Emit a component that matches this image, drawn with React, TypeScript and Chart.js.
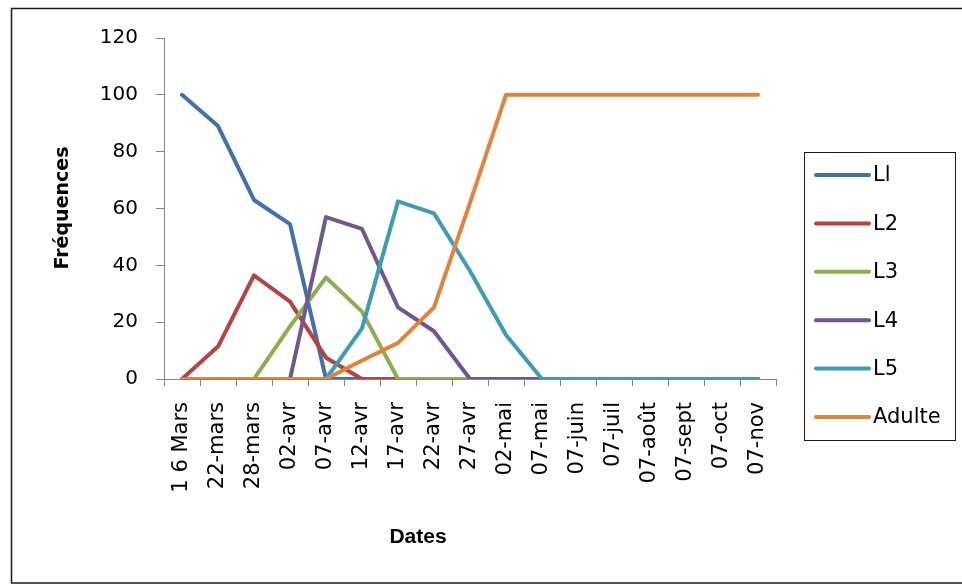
import React, { useEffect, useRef } from 'react';
import { Chart, registerables } from 'chart.js';

Chart.register(...registerables);

const categories = ['1 6 Mars', '22-mars', '28-mars', '02-avr', '07-avr', '12-avr', '17-avr', '22-avr', '27-avr', '02-mai', '07-mai', '07-juin', '07-juil', '07-août', '07-sept', '07-oct', '07-nov'];
const seriesL1 = [100, 89, 63, 54.5, 0, 0, 0, 0, 0, 0, 0, 0, 0, 0, 0, 0, 0];
const seriesL2 = [0, 11.4, 36.5, 27.2, 7.5, 0, 0, 0, 0, 0, 0, 0, 0, 0, 0, 0, 0];
const seriesL3 = [0, 0, 0, 18.5, 35.7, 23.7, 0, 0, 0, 0, 0, 0, 0, 0, 0, 0, 0];
const seriesL4 = [0, 0, 0, 0, 57, 52.8, 25.2, 16.8, 0, 0, 0, 0, 0, 0, 0, 0, 0];
const seriesL5 = [0, 0, 0, 0, 0, 17.8, 62.5, 58.3, 38, 15.5, 0, 0, 0, 0, 0, 0, 0];
const seriesAdulte = [0, 0, 0, 0, 0, 6.5, 12.7, 25.2, 62, 100, 100, 100, 100, 100, 100, 100, 100];
const seriesNames = ['Ll', 'L2', 'L3', 'L4', 'L5', 'Adulte'];
const seriesColors = ['#4170AA', '#B3443F', '#8DAE4D', '#71568F', '#3F9CB6', '#E0843B'];
const yTickValues = [0, 20, 40, 60, 80, 100, 120];
const xTitle = 'Dates';
const yTitle = 'Fréquences';

const decorPlugin = {
  id: 'decor',
  beforeDraw(chart: any) {
    const ctx = chart.ctx;
    ctx.save();
    ctx.fillStyle = '#ffffff';
    ctx.fillRect(0, 0, chart.width, chart.height);
    ctx.strokeStyle = '#1a1a1a';
    ctx.lineWidth = 1.5;
    ctx.strokeRect(11.5, 8.5, chart.width + 10, 574.5);
    ctx.restore();
  },
  afterDraw(chart: any) {
    const ctx = chart.ctx;
    ctx.save();
    // axis titles
    ctx.fillStyle = '#000';
    ctx.textAlign = 'center';
    ctx.textBaseline = 'middle';
    ctx.font = 'bold 21px "Liberation Sans"';
    ctx.fillText(xTitle, 418, 537);
    ctx.save();
    ctx.translate(63, 208);
    ctx.rotate(-Math.PI / 2);
    ctx.font = 'bold 19px "DejaVu Sans"';
    ctx.fillText(yTitle, 0, 0);
    ctx.restore();
    // legend
    ctx.strokeStyle = '#1a1a1a';
    ctx.lineWidth = 1;
    ctx.strokeRect(804.5, 152.5, 151, 288);
    ctx.font = '21px "DejaVu Sans"';
    ctx.textAlign = 'left';
    chart.data.datasets.forEach((ds: any, i: number) => {
      const y = 175 + i * 48.4;
      ctx.strokeStyle = ds.borderColor;
      ctx.lineWidth = 4;
      ctx.lineCap = 'round';
      ctx.beginPath();
      ctx.moveTo(816, y);
      ctx.lineTo(869, y);
      ctx.stroke();
      ctx.fillStyle = '#000';
      ctx.fillText(ds.label, 873, y + 1);
    });
    ctx.restore();
  },
};

export default function App() {
  const ref = useRef<HTMLCanvasElement | null>(null);
  useEffect(() => {
    if (!ref.current) return;
    const all = [seriesL1, seriesL2, seriesL3, seriesL4, seriesL5, seriesAdulte];
    const chart = new Chart(ref.current, {
      type: 'line',
      data: {
        labels: categories,
        datasets: all.map((d, i) => ({
          label: seriesNames[i],
          data: d,
          borderColor: seriesColors[i],
          backgroundColor: seriesColors[i],
          borderWidth: 4,
          pointRadius: 0,
          pointHoverRadius: 0,
          tension: 0,
          borderCapStyle: 'round',
          borderJoinStyle: 'round',
          order: all.length - 1 - i,
        })),
      },
      options: {
        responsive: false,
        animation: false,
        events: [],
        layout: { padding: { left: 0, top: 38, right: 186, bottom: 0 } },
        plugins: {
          legend: { display: false },
          tooltip: { enabled: false },
          title: { display: false },
        },
        scales: {
          x: {
            type: 'category',
            offset: true,
            border: { display: true, color: '#868686', width: 1 },
            grid: { display: true, offset: true, drawOnChartArea: false, drawTicks: true, tickLength: 7, color: '#868686' },
            ticks: {
              autoSkip: false,
              minRotation: 90,
              maxRotation: 90,
              padding: 16,
              color: '#000',
              font: { family: '"DejaVu Sans"', size: 21 },
            },
            afterFit(scale: any) { scale.height = 205; },
          },
          y: {
            type: 'linear',
            min: 0,
            max: 120,
            border: { display: true, color: '#868686', width: 1 },
            grid: { display: true, drawOnChartArea: false, drawTicks: true, tickLength: 8, color: '#868686' },
            afterBuildTicks(scale: any) { scale.ticks = yTickValues.map((v) => ({ value: v })); },
            ticks: {
              padding: 18,
              color: '#000',
              font: { family: '"DejaVu Sans"', size: 20 },
            },
            afterFit(scale: any) { scale.width = 164; },
          },
        },
      },
      plugins: [decorPlugin],
    } as any);
    return () => chart.destroy();
  }, []);
  return (
    <div style={{ position: 'absolute', left: 0, top: 0, width: 962, height: 584 }}>
      <canvas ref={ref} width={962} height={584} style={{ display: 'block', width: 962, height: 584 }} />
    </div>
  );
}
